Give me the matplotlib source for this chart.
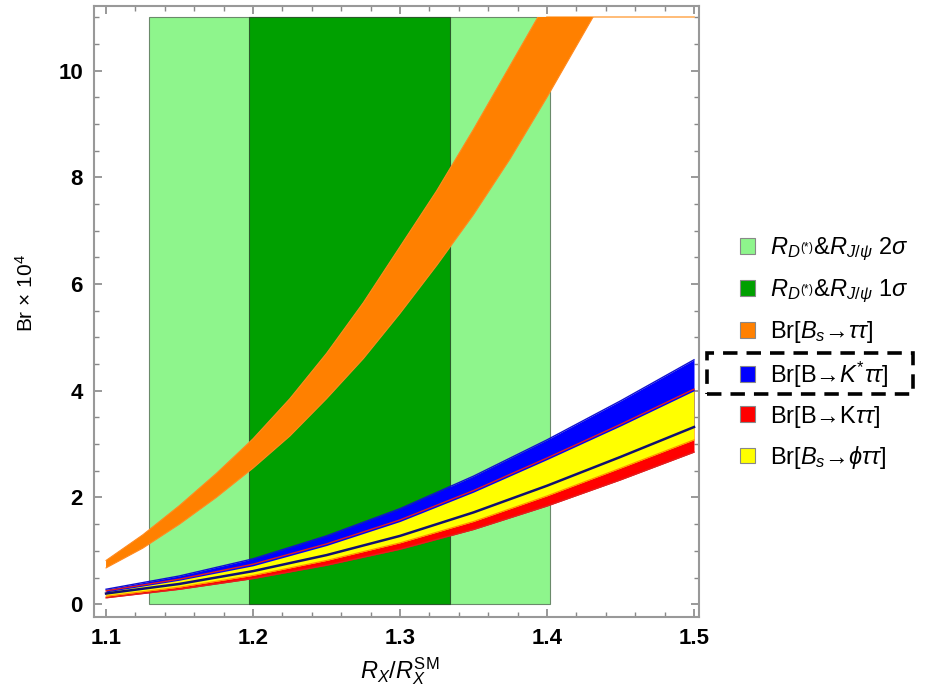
import numpy as np
import matplotlib
matplotlib.use("Agg")
import matplotlib.pyplot as plt
from matplotlib.patches import Patch, Rectangle
from matplotlib.ticker import MultipleLocator

plt.rcParams['font.family'] = ['Liberation Sans', 'DejaVu Sans']
plt.rcParams['mathtext.fontset'] = 'custom'
plt.rcParams['mathtext.rm'] = 'Liberation Sans'
plt.rcParams['mathtext.it'] = 'Liberation Sans:italic'
plt.rcParams['mathtext.bf'] = 'Liberation Sans:bold'

# allowed regions (R_X / R_X^SM)
band_2sigma = (1.129, 1.402)
band_1sigma = (1.197, 1.334)
band_top = 11.0

# Br(Bs -> tau tau) x 1e4
x_bs = [1.100, 1.125, 1.150, 1.175, 1.200, 1.225, 1.250, 1.275, 1.300,
        1.325, 1.350, 1.375, 1.400, 1.425, 1.450, 1.475, 1.500]
bs_hi = [0.82, 1.30, 1.85, 2.45, 3.10, 3.85, 4.70, 5.65, 6.70,
         7.75, 8.90, 10.10, 11.30, 12.50, 13.80, 15.10, 16.50]
bs_lo = [0.68, 1.05, 1.50, 2.00, 2.55, 3.15, 3.85, 4.60, 5.45,
         6.35, 7.30, 8.35, 9.50, 10.70, 11.90, 13.10, 14.40]

# semileptonic modes
x_sl = [1.10, 1.15, 1.20, 1.25, 1.30, 1.35, 1.40, 1.45, 1.50]
kst_hi = [0.28, 0.53, 0.85, 1.28, 1.79, 2.40, 3.08, 3.81, 4.58]
kst_lo = [0.20, 0.38, 0.62, 0.92, 1.28, 1.72, 2.22, 2.76, 3.32]
k_hi = [0.25, 0.47, 0.75, 1.13, 1.58, 2.13, 2.74, 3.37, 4.03]
k_lo = [0.12, 0.28, 0.48, 0.73, 1.03, 1.40, 1.84, 2.33, 2.85]
phi_hi = [0.23, 0.45, 0.72, 1.10, 1.55, 2.10, 2.71, 3.34, 4.00]
phi_lo = [0.15, 0.32, 0.54, 0.82, 1.15, 1.55, 2.03, 2.55, 3.08]

labels = [r'$R_{D^{(*)}}$&$R_{J/\psi}$ 2$\sigma$',
          r'$R_{D^{(*)}}$&$R_{J/\psi}$ 1$\sigma$',
          r'Br[$B_s$→$\tau\tau$]',
          r'Br[B→$K^{*}\tau\tau$]',
          r'Br[B→K$\tau\tau$]',
          r'Br[$B_s$→$\phi\tau\tau$]']
colors = ['#8ef58c', '#00a000', '#ff8000', '#0000ff', '#ff0000', '#ffff00']

fig = plt.figure(figsize=(9.43, 6.98), dpi=100)
ax = fig.add_axes([94/943, 1-617/698, 605/943, 611/698])

ax.add_patch(Rectangle((band_2sigma[0], 0), band_2sigma[1]-band_2sigma[0], band_top,
                       facecolor=colors[0], edgecolor='#6a8a6a', lw=0.8, zorder=1))
ax.add_patch(Rectangle((band_1sigma[0], 0), band_1sigma[1]-band_1sigma[0], band_top,
                       facecolor=colors[1], edgecolor='#2a5a2a', lw=0.8, zorder=1))

# plot range is cut at band_top, like the original
xb = np.array(x_bs)
hi_arr = np.array(bs_hi)
clip = Rectangle((1.0, -1.0), 1.0, band_top + 1.0, transform=ax.transData)
over = hi_arr >= band_top
ax.plot(xb[over], np.full(over.sum(), band_top), color='#ffb060', lw=1.2, zorder=2)
orange = ax.fill_between(xb, bs_lo, bs_hi, color=colors[2], lw=0, zorder=2)
orange.set_clip_path(clip)
for edge in (bs_hi, bs_lo):
    ln, = ax.plot(xb, edge, color='#ff8a20', lw=0.8, zorder=2)
    ln.set_clip_path(clip)

xs = np.array(x_sl)
ax.fill_between(xs, k_lo, k_hi, color=colors[4], lw=0, zorder=3)
ax.fill_between(xs, kst_lo, kst_hi, color=colors[3], lw=0, zorder=3)
ax.fill_between(xs, phi_lo, phi_hi, color=colors[5], lw=0, zorder=3)
ax.plot(xs, kst_hi, color='#1010d0', lw=1.0, zorder=4)
ax.plot(xs, kst_lo, color='#101070', lw=1.8, zorder=4)
ax.plot(xs, k_hi, color='#e02020', lw=1.0, zorder=4)
ax.plot(xs, k_lo, color='#e02020', lw=1.0, zorder=4)
ax.plot(xs, phi_lo, color='#ff9000', lw=0.8, zorder=4)

ax.set_xlim(1.0918, 1.5034)
ax.set_ylim(-0.24, 11.21)
ax.xaxis.set_major_locator(MultipleLocator(0.1))
ax.xaxis.set_minor_locator(MultipleLocator(0.02))
ax.yaxis.set_major_locator(MultipleLocator(2))
ax.yaxis.set_minor_locator(MultipleLocator(0.5))
ax.set_xticks([1.1, 1.2, 1.3, 1.4, 1.5], ['1.1', '1.2', '1.3', '1.4', '1.5'])
ax.tick_params(which='both', direction='in', top=True, right=True, color='#888888')
ax.tick_params(which='major', length=6, width=1.2, labelsize=16, pad=8)
ax.tick_params(which='minor', length=3.5, width=1.0)
for lab in ax.get_xticklabels() + ax.get_yticklabels():
    lab.set_fontweight('bold')
for sp in ax.spines.values():
    sp.set_color('#999999')
    sp.set_linewidth(1.5)

ax.set_ylabel(r'Br × 10$^4$', fontsize=15)
ax.yaxis.set_label_coords(-0.094, 0.53)
ax.set_xlabel(r'$R_X/R_X^{\mathrm{SM}}$', fontsize=17)
ax.xaxis.set_label_coords(0.506, -0.063)

handles = [Patch(facecolor=c, edgecolor='#888888', lw=0.8) for c in colors]
ax.legend(handles, labels, loc='upper left', bbox_to_anchor=(740/943, 1-236/698),
          bbox_transform=fig.transFigure, frameon=False, fontsize=17,
          handlelength=0.65, handleheight=0.65, handletextpad=0.6,
          labelspacing=0.6, borderpad=0, borderaxespad=0)

fig.patches.append(Rectangle((707/943, 1-394/698), 206/943, 41/698, fill=False,
                             ec='black', lw=2.6, ls=(0, (4, 2.5)),
                             transform=fig.transFigure, figure=fig))

fig.savefig('out.png', dpi=100)
